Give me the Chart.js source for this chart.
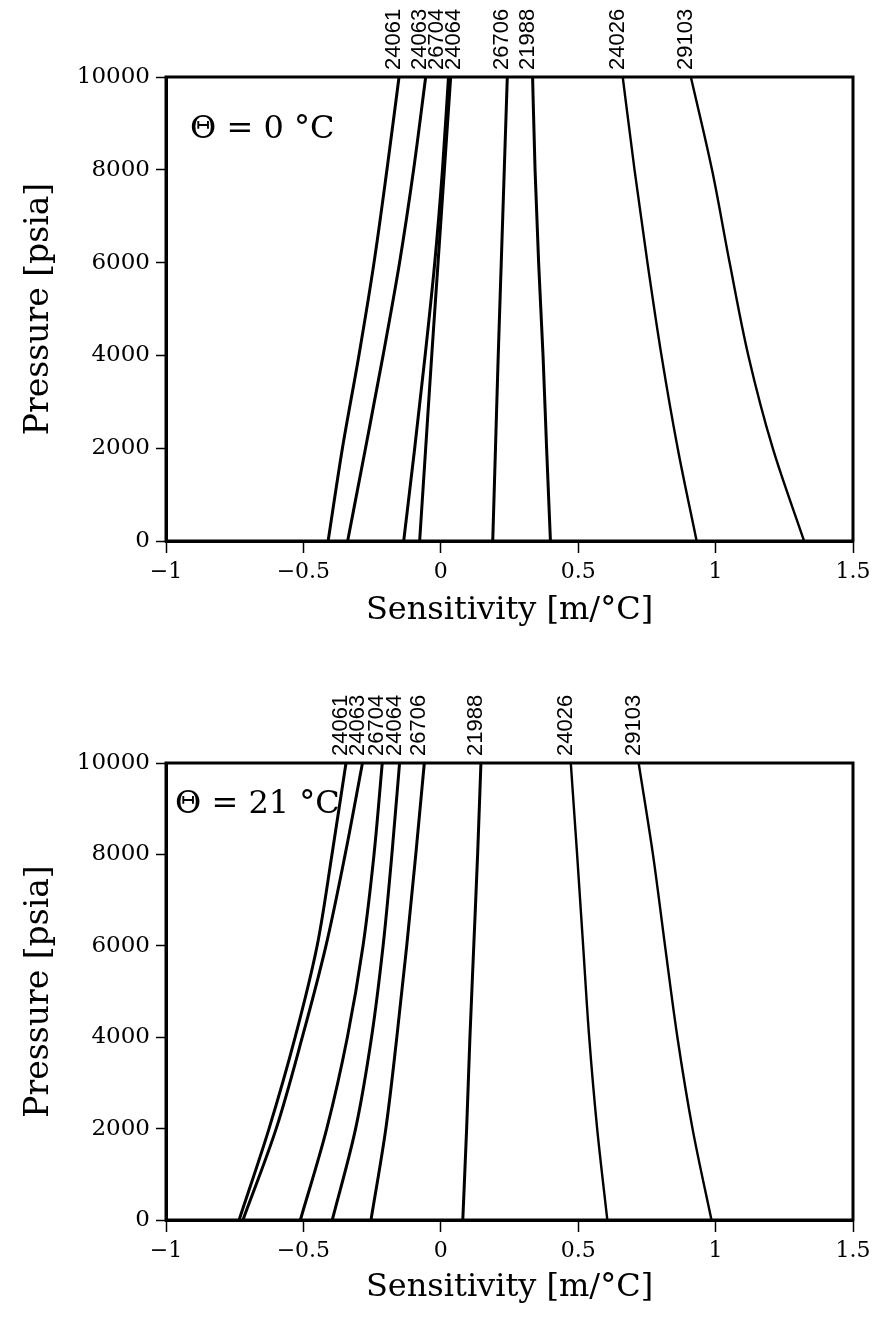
<!DOCTYPE html>
<html>
<head>
<meta charset="utf-8">
<script src="https://cdn.jsdelivr.net/npm/chart.js@4.4.0/dist/chart.umd.min.js"></script>
<style>
  body { margin: 0; background: #fff; }
  .wrap { position: absolute; left: 0; width: 878px; }
</style>
</head>
<body>
<div class="wrap" style="top:0;height:650px"><canvas id="chartTop"></canvas></div>
<div class="wrap" style="top:686px;height:633px"><canvas id="chartBottom"></canvas></div>
<script>
// pressure levels [psia] shared by every curve
const pressure = [0, 2000, 4000, 6000, 8000, 10000];
const wellIds = ['24061', '24063', '26704', '24064', '26706', '21988', '24026', '29103'];

// sensitivity [m/°C] at each pressure, theta = 0 °C
const t0_24061 = [-0.410, -0.358, -0.298, -0.243, -0.196, -0.152];
const t0_24063 = [-0.339, -0.274, -0.210, -0.150, -0.099, -0.055];
const t0_26704 = [-0.135, -0.095, -0.057, -0.022, 0.006, 0.028];
const t0_24064 = [-0.077, -0.055, -0.033, -0.010, 0.013, 0.036];
const t0_26706 = [0.189, 0.199, 0.209, 0.220, 0.231, 0.242];
const t0_21988 = [0.399, 0.385, 0.372, 0.356, 0.343, 0.334];
const t0_24026 = [0.931, 0.862, 0.803, 0.752, 0.705, 0.662];
const t0_29103 = [1.322, 1.208, 1.119, 1.051, 0.987, 0.910];

// sensitivity [m/°C] at each pressure, theta = 21 °C
const t21_24061 = [-0.734, -0.625, -0.530, -0.450, -0.396, -0.345];
const t21_24063 = [-0.720, -0.599, -0.504, -0.418, -0.348, -0.285];
const t21_26704 = [-0.511, -0.415, -0.340, -0.283, -0.243, -0.213];
const t21_24064 = [-0.395, -0.310, -0.252, -0.210, -0.178, -0.150];
const t21_26706 = [-0.254, -0.200, -0.160, -0.124, -0.091, -0.060];
const t21_21988 = [0.080, 0.094, 0.106, 0.120, 0.134, 0.146];
const t21_24026 = [0.606, 0.569, 0.540, 0.518, 0.496, 0.473];
const t21_29103 = [0.985, 0.916, 0.861, 0.816, 0.772, 0.720];

const xTicks = [-1, -0.5, 0, 0.5, 1, 1.5];
const yTicks = [0, 2000, 4000, 6000, 8000, 10000];

const seriesT0 = [t0_24061, t0_24063, t0_26704, t0_24064, t0_26706, t0_21988, t0_24026, t0_29103];
const seriesT21 = [t21_24061, t21_24063, t21_26704, t21_24064, t21_26706, t21_21988, t21_24026, t21_29103];

const SERIF = '"DejaVu Serif", "Liberation Serif", serif';

function buildDatasets(series) {
    return series.map(function(vals, i) {
        return {
            label: wellIds[i],
            data: vals.map((v, k) => ({ x: v, y: pressure[k] })),
            showLine: true,
            borderColor: '#000',
            borderWidth: i >= 6 ? 2.4 : 3,
            pointRadius: 0,
            cubicInterpolationMode: 'monotone',
            fill: false
        };
    });
}

// push label positions apart so the rotated well numbers do not overlap
function spreadLabels(xs, gap) {
    const order = xs.map((x, i) => i).sort((a, b) => xs[a] - xs[b]);
    const pos = order.map(i => xs[i]);
    for (let it = 0; it < 60; it++) {
        for (let k = 1; k < pos.length; k++) {
            const d = pos[k] - pos[k - 1];
            if (d < gap) {
                const m = (gap - d) / 2;
                pos[k - 1] -= m;
                pos[k] += m;
            }
        }
    }
    const out = [];
    order.forEach((i, k) => { out[i] = pos[k]; });
    return out;
}

const framePlugin = {
    id: 'frame',
    afterDraw(chart, args, opts) {
        const ctx = chart.ctx;
        const a = chart.chartArea;
        const xs = chart.scales.x;
        ctx.save();
        // box round the plot
        ctx.strokeStyle = '#000';
        ctx.lineWidth = 3;
        ctx.strokeRect(a.left, a.top, a.right - a.left, a.bottom - a.top);

        // well numbers above the top of each curve
        const tops = chart.data.datasets.map(ds => xs.getPixelForValue(ds.data[ds.data.length - 1].x) - 5);
        const pos = spreadLabels(tops, 17);
        ctx.fillStyle = '#000';
        ctx.font = '22px "Liberation Sans", Arial, sans-serif';
        ctx.textAlign = 'left';
        ctx.textBaseline = 'middle';
        chart.data.datasets.forEach(function(ds, i) {
            ctx.save();
            ctx.translate(pos[i], a.top - 7);
            ctx.rotate(-Math.PI / 2);
            ctx.fillText(ds.label, 0, 0);
            ctx.restore();
        });

        // temperature note in the corner
        ctx.font = '32px ' + SERIF;
        ctx.textAlign = 'left';
        ctx.textBaseline = 'middle';
        ctx.fillText(opts.note, a.left + opts.dx, a.top + opts.dy);
        ctx.restore();
    }
};

function makeChart(id, series, note, dx, dy, xAxisHeight, titlePad) {
    const ctx = document.getElementById(id).getContext('2d');
    return new Chart(ctx, {
        type: 'scatter',
        data: { datasets: buildDatasets(series) },
        plugins: [framePlugin],
        options: {
            indexAxis: 'y',
            responsive: true,
            maintainAspectRatio: false,
            animation: false,
            layout: { padding: { top: 77, right: 25, left: 0, bottom: 0 } },
            plugins: {
                legend: { display: false },
                tooltip: { enabled: false },
                frame: { note: note, dx: dx, dy: dy }
            },
            scales: {
                x: {
                    type: 'linear',
                    position: 'bottom',
                    min: -1,
                    max: 1.5,
                    afterBuildTicks: axis => { axis.ticks = xTicks.map(v => ({ value: v })); },
                    afterFit: scale => { scale.height = xAxisHeight; },
                    grid: { drawOnChartArea: false, tickLength: 12, tickColor: '#000', tickWidth: 1.5 },
                    border: { display: true, color: '#000', width: 3 },
                    ticks: {
                        color: '#000',
                        padding: 6,
                        maxRotation: 0,
                        font: { family: SERIF, size: 22 },
                        callback: v => String(v).replace('-', '\u2212')
                    },
                    title: {
                        display: true,
                        text: 'Sensitivity [m/\u00B0C]',
                        color: '#000',
                        font: { family: SERIF, size: 32 },
                        padding: { top: 0, bottom: titlePad }
                    }
                },
                y: {
                    type: 'linear',
                    position: 'left',
                    min: 0,
                    max: 10000,
                    afterBuildTicks: axis => { axis.ticks = yTicks.map(v => ({ value: v })); },
                    afterFit: scale => { scale.width = 166; },
                    grid: { drawOnChartArea: false, tickLength: 10, tickColor: '#000', tickWidth: 1.5 },
                    border: { display: true, color: '#000', width: 3 },
                    ticks: {
                        color: '#000',
                        padding: 6,
                        font: { family: SERIF, size: 23 },
                        callback: v => String(v)
                    },
                    title: {
                        display: true,
                        text: 'Pressure [psia]',
                        color: '#000',
                        font: { family: SERIF, size: 33 },
                        padding: { top: 20, bottom: 0 }
                    }
                }
            }
        }
    });
}

makeChart('chartTop', seriesT0, '\u0398 = 0 \u00B0C', 24, 53, 109, 20);
makeChart('chartBottom', seriesT21, '\u0398 = 21 \u00B0C', 9, 42, 99, 12);
</script>
</body>
</html>
